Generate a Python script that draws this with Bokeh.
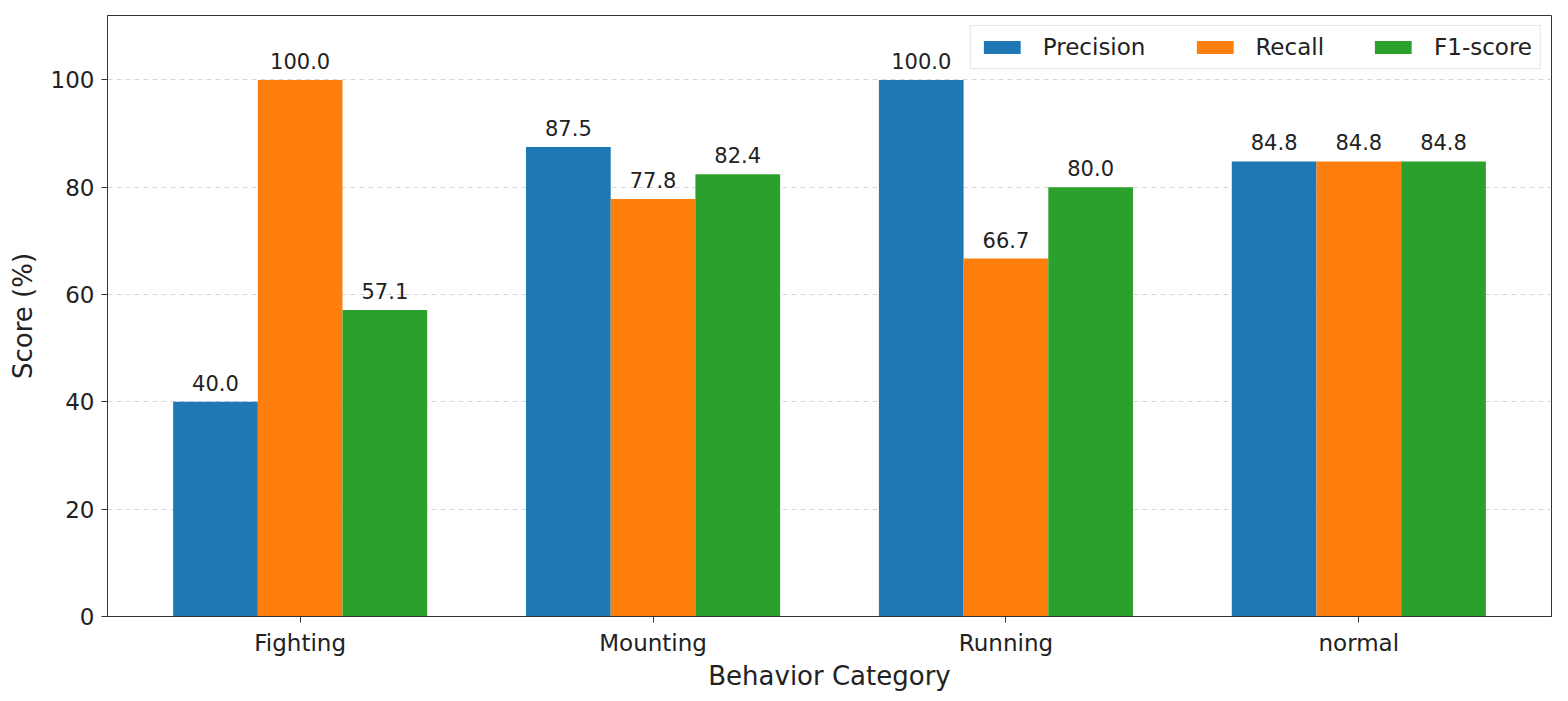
from bokeh.plotting import figure
from bokeh.models import Range1d, FixedTicker, ColumnDataSource, Legend, LegendItem, LabelSet
from bokeh.core.properties import value
from bokeh.embed import file_html
from bokeh.resources import INLINE

categories = ["Fighting", "Mounting", "Running", "normal"]
series_names = ["Precision", "Recall", "F1-score"]
precision = [40.0, 87.5, 100.0, 84.8]
recall = [100.0, 77.8, 66.7, 84.8]
f1 = [57.1, 82.4, 80.0, 84.8]
colors = ["#1f77b4", "#ff7f0e", "#2ca02c"]
y_ticks = [0, 20, 40, 60, 80, 100]

FONT = "DejaVu Sans"
bar_w = 0.24
offsets = [-bar_w, 0.0, bar_w]

p = figure(width=1561, height=693, output_backend="svg", toolbar_location=None,
           x_range=Range1d(-0.546, 3.546), y_range=Range1d(0, 112),
           min_border_left=107, min_border_right=10, min_border_top=15, min_border_bottom=76)

renderers = []
for vals, off, col, name in zip([precision, recall, f1], offsets, colors, series_names):
    src = ColumnDataSource(dict(
        x=[i + off for i in range(len(categories))],
        top=vals,
        lab=[f"{v:.1f}" for v in vals],
    ))
    r = p.vbar(x="x", top="top", width=bar_w, source=src, fill_color=col, line_color=None)
    renderers.append((name, r))
    p.add_layout(LabelSet(x="x", y="top", text="lab", source=src, text_align="center",
                          text_baseline="bottom", y_offset=11, text_font=value(FONT),
                          text_font_size="21px", text_color="#222222"))

legend = Legend(items=[LegendItem(label=n, renderers=[r]) for n, r in renderers],
                orientation="horizontal", location="top_right",
                label_text_font=FONT, label_text_font_size="23px", label_text_color="#222222",
                glyph_width=46, glyph_height=16, label_standoff=18, spacing=46,
                padding=8, border_line_color="#cccccc", border_line_width=1,
                background_fill_alpha=0.9)
p.add_layout(legend)

p.xaxis.ticker = FixedTicker(ticks=list(range(len(categories))))
p.xaxis.major_label_overrides = {i: c for i, c in enumerate(categories)}
p.yaxis.ticker = FixedTicker(ticks=y_ticks)

for ax in (p.xaxis, p.yaxis):
    ax.major_label_text_font = FONT
    ax.major_label_text_font_size = "23px"
    ax.major_label_text_color = "#222222"
    ax.axis_label_text_font = FONT
    ax.axis_label_text_font_size = "26px"
    ax.axis_label_text_font_style = "normal"
    ax.axis_label_text_color = "#222222"
    ax.major_tick_in = 0
    ax.major_tick_out = 6
    ax.minor_tick_line_color = None
    ax.axis_line_color = "#333333"
    ax.major_tick_line_color = "#333333"

p.xaxis.axis_label = "Behavior Category"
p.yaxis.axis_label = "Score (%)"
p.xaxis.major_label_standoff = 7
p.yaxis.major_label_standoff = 7
p.xaxis.axis_label_standoff = 2
p.yaxis.axis_label_standoff = 10

p.xgrid.grid_line_color = None
p.ygrid.grid_line_color = "#cccccc"
p.ygrid.grid_line_dash = "5 4"
p.ygrid.grid_line_alpha = 0.8

p.outline_line_color = "#333333"
p.outline_line_width = 1

open("out.html", "w").write(file_html(p, INLINE))
